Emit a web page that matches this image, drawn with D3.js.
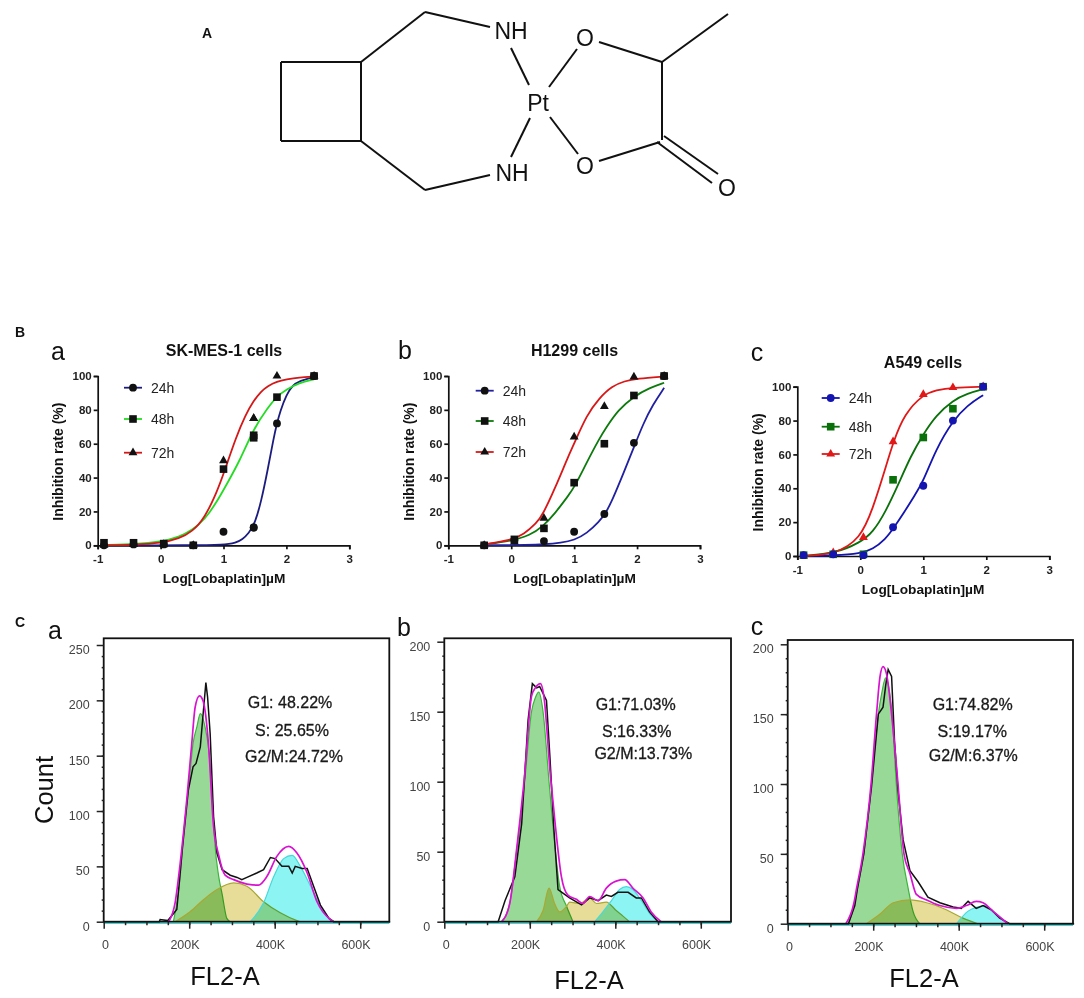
<!DOCTYPE html>
<html>
<head>
<meta charset="utf-8">
<script src="https://cdn.jsdelivr.net/npm/d3@7"></script>
<style>
	html, body { margin: 0; padding: 0; background: #fff; }
	svg { display: block; font-family: "Liberation Sans", Arial, sans-serif; }
	.dose .tick text { font-weight: bold; font-size: 11.5px; fill: #222; }
	.dose .domain, .dose .tick line { stroke: #111; stroke-width: 1.7px; }
	.flow .tick text { font-size: 12.5px; fill: #444; }
	.flow .domain { display: none; }
	.flow .tick line { stroke: #222; stroke-width: 1.5px; }
	.phase { mix-blend-mode: multiply; }
</style>
</head>
<body>
<script>
var doseTicks = [-1, 0, 1, 2, 3],
		rateTicks = [0, 20, 40, 60, 80, 100];

// panel B a, SK-MES-1
var skDose = [-0.9, -0.43, 0.05, 0.52, 1.0, 1.48, 1.48, 1.85, 2.44],
		sk24 = [0, 0.5, 0.5, 0, 8, 10.5, 10.5, 72, 100],
		sk48 = [1.5, 1.5, 1, 0, 45, 65, 63.5, 87.5, 100],
		sk72 = [0, 0.5, 0.5, 0, 50, 75, 75, 100, 100];
var sk24Curve = [[-0.9,0],[0.5,0],[1.0,0.2],[1.2,1.5],[1.3,3.5],[1.4,7],[1.5,13],[1.6,26],[1.7,44],[1.8,64],[1.85,72],[1.9,79],[2.0,89],[2.1,94.5],[2.2,97],[2.44,99.5]],
		sk48Curve = [[-0.9,0.2],[-0.4,0.6],[0,2],[0.3,5],[0.5,9],[0.7,15],[0.9,26],[1.05,36],[1.26,50],[1.48,69],[1.7,81],[1.85,88],[2.0,92],[2.2,96],[2.44,98]],
		sk72Curve = [[-0.9,0],[-0.4,0.3],[0,1.2],[0.3,4],[0.5,8],[0.7,16],[0.9,32],[1.0,42],[1.2,64],[1.35,77],[1.47,85],[1.6,91],[1.7,94],[1.85,96.8],[2.0,98],[2.2,99.2],[2.44,99.7]];

// panel B b, H1299
var hDose = [-0.43, 0.05, 0.52, 1.0, 1.48, 1.95, 2.43],
		h24 = [0, 3, 2.5, 8, 18.5, 60.5, 100],
		h48 = [0, 3.5, 10, 37, 60, 88.5, 100],
		h72 = [0, 2, 16, 64, 82, 99.5, 100];
var h24Curve = [[-0.43,0],[0.3,0.2],[0.5,0.5],[0.8,1.5],[1.0,3],[1.2,7],[1.4,14],[1.5,19],[1.6,26],[1.8,44],[1.95,58],[2.1,72],[2.25,83],[2.43,93]],
		h48Curve = [[-0.43,0.5],[0,2.5],[0.3,6],[0.5,11],[0.7,19],[0.9,29],[1.0,34],[1.2,49],[1.4,63],[1.5,69],[1.7,80],[1.95,88],[2.2,93],[2.43,96]],
		h72Curve = [[-0.43,0.5],[0,3],[0.2,6.5],[0.4,13],[0.5,18],[0.7,34],[0.9,52],[1.0,60],[1.2,77],[1.4,87],[1.6,94],[1.8,97],[2.0,98.5],[2.43,99.7]];

// panel B c, A549
var aDose = [-0.9, -0.43, 0.05, 0.52, 1.0, 1.47, 1.95],
		a24 = [0.5, 1, 0.5, 17, 41.5, 80, 100],
		a48 = [0.5, 1, 1, 45, 70, 87, 100],
		a72 = [0, 2, 11, 67.5, 95.5, 99.5, 100];
var a24Curve = [[-0.9,0],[-0.4,0.3],[0,1.5],[0.2,4],[0.4,10],[0.52,16],[0.7,26],[0.85,35],[1.0,44],[1.2,63],[1.47,80],[1.7,89],[1.95,95]],
		a48Curve = [[-0.9,0.2],[-0.4,1.5],[0,8],[0.2,14],[0.4,26],[0.6,42],[0.8,59],[1.0,72],[1.2,83],[1.47,92],[1.7,96],[1.95,98.5]],
		a72Curve = [[-0.9,0.1],[-0.4,1],[0,10],[0.2,28],[0.4,52],[0.52,67],[0.7,84],[1.0,95.5],[1.2,98],[1.47,99.5],[1.95,100]];

// panel C, cell cycle histograms: [FL2-A in K, count]
var phaseTicksX = [0, 200, 400, 600],
		countTicksA = [0, 50, 100, 150, 200, 250],
		countTicksB = [0, 50, 100, 150, 200];

var g1A = [[163,0],[170,15],[179,41],[185,71],[201,131],[209,161],[218,176],[226,188],[237,176],[248,146],[253,116],[257,90],[260,71],[269,41],[277,25],[288,3],[296,0]],
		sA = [[167,0],[202,9],[234,20],[265,29],[304,35],[335,32],[374,18],[413,8],[452,1],[460,0]],
		g2A = [[343,0],[374,17],[398,41],[421,57],[441,60],[460,50],[484,32],[507,14],[530,2],[538,0]],
		fitA = [[152,0],[167,17],[179,53],[195,113],[206,161],[214,194],[224,204],[232,200],[237,191],[245,161],[257,86],[269,60],[284,42],[304,38],[335,34],[362,33],[382,41],[405,59],[433,68],[452,62],[476,44],[499,18],[530,2],[538,0]],
		histA = [[0,0],[130,0],[132,2],[150,1],[171,11],[183,62],[198,119],[209,140],[216,143],[226,158],[234,194],[239,216],[243,203],[249,170],[257,95],[265,62],[277,47],[296,42],[312,40],[323,38],[335,40],[358,44],[374,47],[390,58],[401,57],[417,50],[433,50],[441,44],[448,50],[464,48],[476,48],[491,32],[507,15],[527,3],[538,0],[670,0]];

var g1B = [[134,0],[153,13],[169,50],[188,100],[204,150],[213,160],[221,164],[231,150],[245,100],[260,50],[270,25],[286,11],[301,0]],
		sB = [[216,0],[231,8],[245,24],[258,13],[270,7],[286,11],[293,14],[317,13],[340,17],[356,13],[379,14],[402,8],[418,4],[433,0]],
		g2B = [[352,0],[371,7],[391,15],[410,23],[426,25],[441,23],[461,15],[480,6],[500,0]],
		fitB = [[134,0],[153,13],[170,54],[188,105],[204,161],[213,167],[225,170],[233,161],[248,105],[260,68],[274,32],[289,19],[309,16],[324,13],[340,18],[360,15],[379,24],[402,29],[422,30],[441,24],[465,17],[484,7],[507,0]],
		histB = [[0,0],[126,0],[142,15],[165,32],[181,70],[196,144],[206,170],[216,167],[223,168],[239,158],[247,118],[256,68],[266,23],[293,17],[321,12],[340,17],[360,15],[379,19],[391,18],[406,21],[430,21],[449,17],[461,17],[480,7],[500,0],[670,0]];

var g1C = [[142,0],[157,15],[163,25],[178,50],[196,100],[212,150],[220,165],[229,176],[236,170],[244,150],[254,100],[268,50],[282,25],[293,9],[309,0]],
		sC = [[184,0],[216,7],[247,15],[286,17],[325,15],[371,10],[410,4],[445,0]],
		g2C = [[395,0],[422,9],[445,12],[461,13],[480,9],[500,4],[515,0]],
		fitC = [[136,0],[155,15],[161,25],[176,50],[195,100],[208,151],[216,177],[223,184],[231,179],[243,150],[258,100],[272,50],[286,36],[301,21],[325,17],[356,13],[395,11],[418,13],[441,16],[457,15],[480,9],[503,3],[515,0]],
		histC = [[0,0],[142,0],[157,13],[163,25],[178,50],[196,98],[212,150],[223,155],[229,170],[235,182],[243,177],[250,130],[258,95],[270,60],[286,38],[305,30],[328,19],[356,15],[387,12],[406,11],[422,16],[441,11],[457,13],[476,10],[496,4],[519,0],[670,0]];

var legendNames = ["24h", "48h", "72h"],
		statsA = ["G1: 48.22%", "S: 25.65%", "G2/M:24.72%"],
		statsB = ["G1:71.03%", "S:16.33%", "G2/M:13.73%"],
		statsC = ["G1:74.82%", "S:19.17%", "G2/M:6.37%"];

// molecule, drawn in page pixels
var bonds = [
	[[281,62],[361,62]], [[361,62],[361,141]], [[361,141],[281,141]], [[281,141],[281,62]],
	[[361,62],[425,12]], [[425,12],[490,27]], [[511,48],[529,85]],
	[[549,87],[577,49]], [[599,42],[662,62]], [[662,62],[728,14]], [[662,62],[662,140]],
	[[664,136],[718,174]], [[657,142],[712,183]], [[660,142],[599,161]],
	[[550,117],[578,154]], [[530,118],[511,157]],
	[[361,141],[425,190]], [[425,190],[490,175]]
];
var atoms = [
	{label: "NH", x: 511, y: 31}, {label: "NH", x: 512, y: 173},
	{label: "Pt", x: 538, y: 103},
	{label: "O", x: 585, y: 38}, {label: "O", x: 585, y: 166}, {label: "O", x: 727, y: 188}
];

var svg = d3.select("body").append("svg")
	.attr("width", 1084)
	.attr("height", 998)
	.style("filter", "blur(0.45px)");

function addText(x, y, str, size, weight, fill) {
	return svg.append("text")
		.attr("x", x)
		.attr("y", y)
		.attr("text-anchor", "middle")
		.attr("dominant-baseline", "central")
		.style("font-size", size + "px")
		.style("font-weight", weight || "normal")
		.style("fill", fill || "#111")
		.text(str);
}

function drawMolecule() {
	svg.append("g").selectAll("line")
		.data(bonds)
		.enter().append("line")
			.attr("x1", function(d) { return d[0][0]; })
			.attr("y1", function(d) { return d[0][1]; })
			.attr("x2", function(d) { return d[1][0]; })
			.attr("y2", function(d) { return d[1][1]; })
			.attr("stroke", "#111")
			.attr("stroke-width", 2);
	atoms.forEach(function(a) {
		addText(a.x, a.y, a.label, 23);
	});
	addText(207, 33, "A", 14, "bold");
}

function drawDosePanel(opts) {
	var x = d3.scaleLinear().domain([-1, 3]).range(opts.xRange),
			y = d3.scaleLinear().domain([0, 100]).range(opts.yRange);
	var g = svg.append("g").attr("class", "dose");

	g.append("g")
		.attr("transform", "translate(0," + opts.yRange[0] + ")")
		.call(d3.axisBottom(x).tickValues(doseTicks).tickFormat(String).tickSize(4).tickPadding(6));
	g.append("g")
		.attr("transform", "translate(" + opts.xRange[0] + ",0)")
		.call(d3.axisLeft(y).tickValues(rateTicks).tickSize(4).tickPadding(2));

	var line = d3.line()
		.curve(d3.curveBasis)
		.x(function(d) { return x(d[0]); })
		.y(function(d) { return y(d[1]); });

	var symbols = [d3.symbolCircle, d3.symbolSquare, d3.symbolTriangle],
			sizes = [48, 58, 34];

	opts.series.forEach(function(s, i) {
		g.append("path")
			.datum(s.curve)
			.attr("fill", "none")
			.attr("stroke", opts.colors[i])
			.attr("stroke-width", 1.8)
			.attr("d", line);
	});

	opts.series.slice().reverse().forEach(function(s, r) {
		var i = 2 - r;
		g.append("g").selectAll("path")
			.data(s.values)
			.enter().append("path")
				.attr("d", d3.symbol().type(symbols[i]).size(sizes[i]))
				.attr("fill", opts.markers[i])
				.attr("transform", function(d, j) {
					return "translate(" + x(opts.dose[j]) + "," + y(d) + ")";
				});
	});

	legendNames.forEach(function(name, i) {
		var ly = opts.legendY[i],
				lx = opts.legendX;
		g.append("line")
			.attr("x1", lx)
			.attr("x2", lx + 18)
			.attr("y1", ly)
			.attr("y2", ly)
			.attr("stroke", opts.colors[i])
			.attr("stroke-width", 1.8);
		g.append("path")
			.attr("d", d3.symbol().type(symbols[i]).size(sizes[i]))
			.attr("fill", opts.markers[i])
			.attr("transform", "translate(" + (lx + 9) + "," + ly + ")");
		g.append("text")
			.attr("x", lx + 27)
			.attr("y", ly)
			.attr("dominant-baseline", "central")
			.style("font-size", "14px")
			.style("fill", "#222")
			.text(name);
	});

	addText(opts.titleX, opts.titleY, opts.title, 16, "bold");
	addText(opts.titleX, opts.yRange[0] + 33, "Log[Lobaplatin]\u00b5M", 13.7, "bold");
	addText(0, 0, "Inhibition rate (%)", 14, "bold")
		.attr("transform", "translate(" + (opts.xRange[0] - 39.5) + "," + ((opts.yRange[0] + opts.yRange[1]) / 2 + 1) + ") rotate(-90)");
}

function drawFlowPanel(opts) {
	var x = d3.scaleLinear().domain([0, 200]).range([opts.left, opts.left + 85.5]),
			y = d3.scaleLinear().domain([0, opts.countTop]).range([opts.bottom, opts.countTopY]);
	var g = svg.append("g").attr("class", "flow");

	var area = d3.area()
		.curve(d3.curveMonotoneX)
		.x(function(d) { return x(d[0]); })
		.y0(opts.bottom)
		.y1(function(d) { return y(d[1]); });
	var smooth = d3.line()
		.curve(d3.curveMonotoneX)
		.x(function(d) { return x(d[0]); })
		.y(function(d) { return y(d[1]); });
	var rough = d3.line()
		.x(function(d) { return x(d[0]); })
		.y(function(d) { return y(d[1]); });

	[
		{data: opts.g1, fill: "#98d998", stroke: "#3bb53b"},
		{data: opts.s, fill: "#e7dc98", stroke: "#a9a832"},
		{data: opts.g2, fill: "#8df4f4", stroke: "#45dada"}
	].forEach(function(p) {
		g.append("path")
			.datum(p.data)
			.attr("class", "phase")
			.attr("fill", p.fill)
			.attr("d", area);
		g.append("path")
			.datum(p.data)
			.attr("fill", "none")
			.attr("stroke", p.stroke)
			.attr("stroke-width", 1.2)
			.attr("d", smooth);
	});

	g.append("path")
		.datum(opts.hist)
		.attr("fill", "none")
		.attr("stroke", "#111")
		.attr("stroke-width", 1.5)
		.attr("d", rough);
	g.append("path")
		.datum(opts.fit)
		.attr("fill", "none")
		.attr("stroke", "#d813d0")
		.attr("stroke-width", 1.7)
		.attr("d", smooth);

	// cyan edge under the baseline, then the frame on top
	g.append("line")
		.attr("x1", opts.left)
		.attr("x2", opts.right)
		.attr("y1", opts.bottom + 1.8)
		.attr("y2", opts.bottom + 1.8)
		.attr("stroke", "#35dcdc")
		.attr("stroke-width", 1.2);
	g.append("rect")
		.attr("x", opts.left)
		.attr("y", opts.top)
		.attr("width", opts.right - opts.left)
		.attr("height", opts.bottom - opts.top)
		.attr("fill", "none")
		.attr("stroke", "#111")
		.attr("stroke-width", 1.8);

	var axisX = g.append("g")
		.attr("transform", "translate(0," + opts.bottom + ")")
		.call(d3.axisBottom(x).tickValues(phaseTicksX).tickSize(7).tickPadding(11)
			.tickFormat(function(d) { return d ? d + "K" : "0"; }));
	axisX.selectAll("text").attr("dx", function(d) { return d ? -4.7 : 1.3; });

	var axisY = g.append("g")
		.attr("transform", "translate(" + opts.left + ",0)")
		.call(d3.axisLeft(y).tickValues(opts.countTicks).tickSize(7).tickPadding(7));
	axisY.selectAll("text").attr("dy", "0.68em");

	// short minor ticks on both axes
	g.append("g")
		.attr("transform", "translate(0," + opts.bottom + ")")
		.call(d3.axisBottom(x).tickValues(d3.range(50, 650, 50)).tickSize(3.5).tickFormat(""));
	g.append("g")
		.attr("transform", "translate(" + opts.left + ",0)")
		.call(d3.axisLeft(y).tickValues(d3.range(10, opts.countTop, 10)).tickSize(2).tickFormat(""));

	opts.stats.forEach(function(str, i) {
		addText(opts.statX[i], opts.statY[i], str, 16, "normal", "#1a1a1a")
			.style("stroke", "#1a1a1a")
			.style("stroke-width", 0.3);
	});
	addText(opts.labelX, opts.labelY, "FL2-A", 25.5);
}

drawMolecule();

addText(20, 332, "B", 14, "bold");
addText(58, 351, "a", 25);
addText(405, 350, "b", 25);
addText(757, 352, "c", 25);

drawDosePanel({
	xRange: [97.7, 349.3], yRange: [545.3, 376],
	title: "SK-MES-1 cells", titleX: 224, titleY: 350,
	dose: skDose,
	series: [{values: sk24, curve: sk24Curve}, {values: sk48, curve: sk48Curve}, {values: sk72, curve: sk72Curve}],
	colors: ["#1c1c80", "#24dc24", "#d41818"],
	markers: ["#111", "#111", "#111"],
	legendX: 124, legendY: [387.7, 419, 452.7]
});
drawDosePanel({
	xRange: [448.3, 700], yRange: [545.3, 376],
	title: "H1299 cells", titleX: 574.5, titleY: 350,
	dose: hDose,
	series: [{values: h24, curve: h24Curve}, {values: h48, curve: h48Curve}, {values: h72, curve: h72Curve}],
	colors: ["#2020a0", "#0c7a0c", "#d81818"],
	markers: ["#111", "#111", "#111"],
	legendX: 475.7, legendY: [390.7, 421, 452]
});
drawDosePanel({
	xRange: [797.3, 1049.3], yRange: [556, 386.7],
	title: "A549 cells", titleX: 923, titleY: 362,
	dose: aDose,
	series: [{values: a24, curve: a24Curve}, {values: a48, curve: a48Curve}, {values: a72, curve: a72Curve}],
	colors: ["#1414b0", "#0a700a", "#e01818"],
	markers: ["#1414b0", "#0a700a", "#e01818"],
	legendX: 821.7, legendY: [398, 426.7, 454]
});

addText(20, 622, "C", 14, "bold");
addText(55, 630, "a", 25);
addText(404, 627, "b", 25);
addText(757, 626, "c", 25);
addText(0, 0, "Count", 25.5).attr("transform", "translate(44,790) rotate(-90)");

drawFlowPanel({
	left: 103.7, right: 389.3, top: 638.3, bottom: 921.7,
	countTop: 250, countTopY: 645, countTicks: countTicksA,
	g1: g1A, s: sA, g2: g2A, fit: fitA, hist: histA,
	stats: statsA, statX: [290, 292, 294], statY: [702.7, 730, 756],
	labelX: 225, labelY: 975.7
});
drawFlowPanel({
	left: 444.3, right: 731, top: 638.3, bottom: 921.7,
	countTop: 200, countTopY: 641.7, countTicks: countTicksB,
	g1: g1B, s: sB, g2: g2B, fit: fitB, hist: histB,
	stats: statsB, statX: [635.7, 636.7, 643.3], statY: [704, 731.7, 753.3],
	labelX: 589, labelY: 980
});
drawFlowPanel({
	left: 787.7, right: 1073, top: 640, bottom: 923.7,
	countTop: 200, countTopY: 644.3, countTicks: countTicksB,
	g1: g1C, s: sC, g2: g2C, fit: fitC, hist: histC,
	stats: statsC, statX: [972.7, 972.3, 973.3], statY: [704, 731.7, 755],
	labelX: 924, labelY: 978
});
</script>
</body>
</html>
